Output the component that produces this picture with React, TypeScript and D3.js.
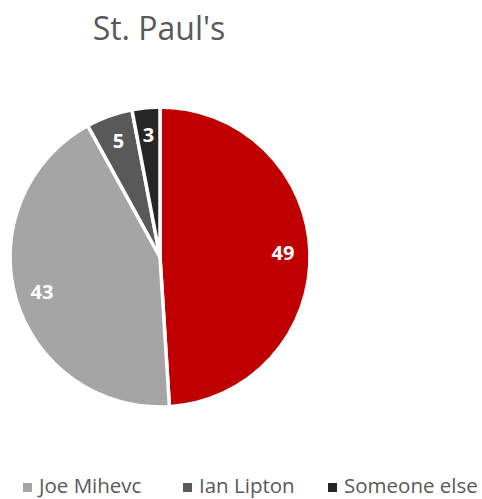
import React from "react";
import * as d3 from "d3";

const categories = ["Olivia Chow", "Joe Mihevc", "Ian Lipton", "Someone else"];
const values = [49, 43, 5, 3];
const colors = ["#C00000", "#A5A5A5", "#595959", "#262626"];
const legendItems = ["Joe Mihevc", "Ian Lipton", "Someone else"];
const legendColors = ["#A5A5A5", "#595959", "#262626"];

export default function App() {
  const W = 482, H = 499;
  const cx = 160, cy = 257, r = 150;
  const pie = d3.pie<number>().sort(null).value((d) => d);
  const arcs = pie(values);
  const arc = d3.arc<d3.PieArcDatum<number>>().innerRadius(0).outerRadius(r);
  const labelArc = d3.arc<d3.PieArcDatum<number>>().innerRadius(r * 0.82).outerRadius(r * 0.82);
  const font = "'Open Sans', 'Noto Sans', sans-serif";
  const legendX = [23, 183, 328];
  return (
    <svg width={W} height={H} style={{ position: "absolute", left: 0, top: 0 }} fontFamily={font}>
      <text x={159} y={40} textAnchor="middle" fontSize={32} fill="#595959">St. Paul's</text>
      <g transform={`translate(${cx},${cy})`}>
        {arcs.map((a, i) => (
          <path key={categories[i]} d={arc(a) || ""} fill={colors[i]} stroke="#fff" strokeWidth={3.5} strokeLinejoin="round" />
        ))}
        {arcs.map((a, i) => {
          const [x, y] = labelArc.centroid(a);
          return (
            <text key={"l" + i} x={x} y={y} dy="0.36em" textAnchor="middle" fontSize={20} fontWeight="bold" fill="#fff">
              {values[i]}
            </text>
          );
        })}
      </g>
      {legendItems.map((name, i) => (
        <g key={name} transform={`translate(${legendX[i]},487)`}>
          <rect x={0} y={-4} width={9} height={9} fill={legendColors[i]} />
          <text x={16} y={0} dy="0.3em" fontSize={20.5} fill="#595959">{name}</text>
        </g>
      ))}
    </svg>
  );
}
